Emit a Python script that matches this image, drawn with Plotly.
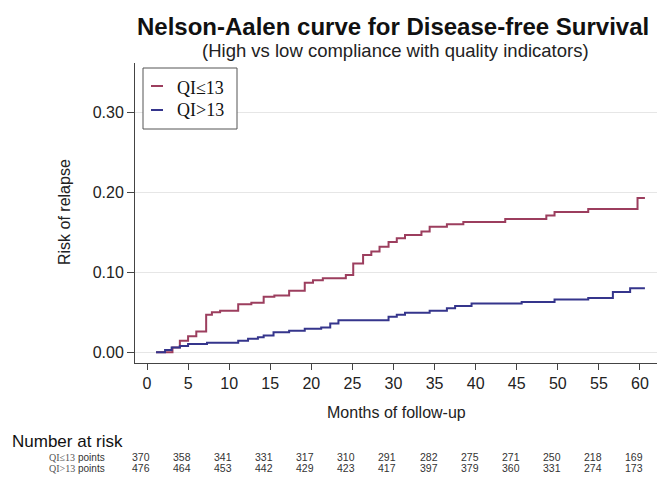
import plotly.graph_objects as go

# ---- data ----
low_t = [1.1, 3.1, 4.0, 5.0, 6.0, 7.2, 7.9, 8.9, 11.1, 12.7, 14.2, 15.5, 17.3, 19.2, 20.2, 21.4,
         24.2, 25.1, 26.3, 27.3, 28.3, 29.4, 30.4, 31.4, 33.4, 34.4, 36.5, 38.5, 43.6, 48.6, 49.6,
         53.7, 59.7, 60.6]
low_v = [0.0, 0.006, 0.0145, 0.020, 0.026, 0.047, 0.050, 0.052, 0.060, 0.062, 0.0695, 0.071, 0.077,
         0.087, 0.090, 0.0925, 0.0966, 0.111, 0.1216, 0.126, 0.132, 0.138, 0.1425, 0.1466, 0.151,
         0.157, 0.160, 0.163, 0.1666, 0.171, 0.1754, 0.179, 0.193, 0.193]

high_t = [1.1, 2.2, 3.0, 4.0, 5.0, 7.3, 11.1, 12.3, 13.5, 14.2, 15.4, 17.3, 19.2, 21.2, 22.3, 23.3,
          29.4, 30.4, 31.4, 34.4, 36.5, 37.5, 39.5, 45.6, 49.6, 53.7, 56.7, 58.8, 60.6]
high_v = [0.0, 0.003, 0.006, 0.008, 0.0104, 0.012, 0.0145, 0.017, 0.0188, 0.021, 0.025, 0.027,
          0.0295, 0.031, 0.036, 0.040, 0.0445, 0.047, 0.0495, 0.052, 0.055, 0.058, 0.061, 0.063,
          0.066, 0.068, 0.0754, 0.080, 0.080]

risk_months = [0, 5, 10, 15, 20, 25, 30, 35, 40, 45, 50, 55, 60]
risk_low = [370, 358, 341, 331, 317, 310, 291, 282, 275, 271, 250, 218, 169]
risk_high = [476, 464, 453, 442, 429, 423, 417, 397, 379, 360, 331, 274, 173]

y_ticks = [0.0, 0.1, 0.2, 0.3]
y_tick_text = ["0.00", "0.10", "0.20", "0.30"]
x_ticks = list(range(0, 61, 5))

series_names = ["QI≤13", "QI>13"]
colors = ["#9c3e5e", "#35358c"]

SANS = "Liberation Sans, Arial, sans-serif"
SERIF = "Liberation Serif, Times New Roman, serif"

fig = go.Figure()
fig.add_trace(go.Scatter(x=low_t, y=low_v, mode="lines", line_shape="hv",
                         line=dict(color=colors[0], width=2), name=series_names[0],
                         showlegend=False, hoverinfo="skip"))
fig.add_trace(go.Scatter(x=high_t, y=high_v, mode="lines", line_shape="hv",
                         line=dict(color=colors[1], width=2), name=series_names[1],
                         showlegend=False, hoverinfo="skip"))

W, H = 659, 477
L, R, T, B = 135, 2, 63, 114
ph = H - T - B


def py(pix):
    return (H - B - pix) / ph


def px(pix):
    return (pix - L) / (W - L - R)


fig.update_layout(
    width=W, height=H,
    margin=dict(l=L, r=R, t=T, b=B),
    paper_bgcolor="white", plot_bgcolor="white",
    font=dict(family=SANS, color="#222", size=15),
    xaxis=dict(range=[-1.46, 62.07], tickmode="array", tickvals=x_ticks,
               ticks="outside", ticklen=6, tickcolor="#444", showline=True, linecolor="#444",
               linewidth=1, showgrid=False, zeroline=False, tickfont=dict(size=16)),
    yaxis=dict(range=[-0.0134, 0.3616], tickmode="array", tickvals=y_ticks, ticktext=y_tick_text,
               ticks="outside", ticklen=7, tickcolor="#444", showline=True, linecolor="#444",
               linewidth=1, showgrid=True, gridcolor="#e6e6e6", gridwidth=1, zeroline=False,
               tickfont=dict(size=16)),
    showlegend=False,
)


def note(text, xp, yp, size, xanchor="center", family=SANS, color="#222", xref="paper", **kw):
    return dict(text=text, x=xp, y=py(yp), xref=xref, yref="paper", xanchor=xanchor,
                yanchor="middle", showarrow=False, font=dict(size=size, family=family, color=color), **kw)


ann = []
ann.append(note("<b>Nelson-Aalen curve for Disease-free Survival</b>", px(393), 26, 24, color="#111"))
ann.append(note("(High vs low compliance with quality indicators)", px(395), 50, 18.5))
ann.append(note("Months of follow-up", px(396), 412, 16))
ann.append(note("Risk of relapse", px(64), 212, 16, textangle=-90))
ann.append(note("Number at risk", px(10), 441, 17, xanchor="left", color="#111"))
# risk table rows
for row_i, (nm, vals) in enumerate(zip(series_names, [risk_low, risk_high])):
    ypix = 457 + row_i * 11
    ann.append(note(nm, px(47), ypix, 10, xanchor="left", family=SERIF, color="#555"))
    ann.append(note("points", px(76), ypix, 10, xanchor="left", color="#333"))
    for m, v in zip(risk_months, vals):
        ann.append(note(str(v), m, ypix, 10.5, color="#333", xref="x", xshift=-6))
# legend
for i, nm in enumerate(series_names):
    ann.append(note(nm, px(175), 88 + i * 22, 18, xanchor="left", family=SERIF, color="#111"))

shapes = [dict(type="rect", xref="paper", yref="paper", x0=px(143), x1=px(237), y0=py(129), y1=py(68),
               line=dict(color="#555", width=1), fillcolor="white", layer="above")]
for i in range(2):
    ypix = 86 + i * 24
    shapes.append(dict(type="line", xref="paper", yref="paper", x0=px(151), x1=px(163),
                       y0=py(ypix), y1=py(ypix), line=dict(color=colors[i], width=2), layer="above"))

fig.update_layout(annotations=ann, shapes=shapes)
fig.write_html("out.html", config={"displayModeBar": False},
               post_script="document.body.style.margin='0';")
